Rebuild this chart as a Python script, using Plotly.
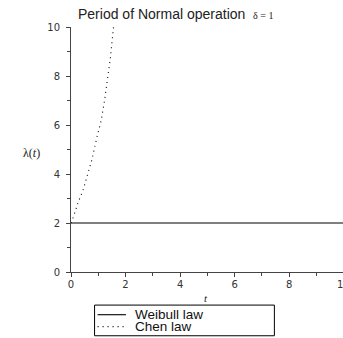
import plotly.graph_objects as go

# Data
weibull_t = [0, 10]
weibull_lambda = [2, 2]

chen_t = [0.0, 0.09, 0.25, 0.46, 0.60, 0.77, 0.95, 1.11, 1.23, 1.34, 1.44, 1.55, 1.57]
chen_lambda = [2.0, 2.25, 2.8, 3.4, 3.95, 4.6, 5.5, 6.2, 7.0, 7.9, 8.7, 9.9, 10.1]

x_ticks = [0, 2, 4, 6, 8]
y_ticks = [0, 2, 4, 6, 8, 10]
series_names = ["Weibull law", "Chen law"]

W, H = 343, 338
L, T = 70.7, 27.3
B = H - 271.7
PW = W - L
PH = H - T - B
px_per_t = 27.3
x_max = PW / px_per_t


def px_x(px):
    return (px - L) / PW


def px_y(py):
    return (H - B - py) / PH


line_styles = [dict(color="black", width=1.1), dict(color="black", width=1.1, dash="1px,4px")]

fig = go.Figure()
fig.add_trace(go.Scatter(x=weibull_t, y=weibull_lambda, mode="lines",
                         name=series_names[0], line=line_styles[0], showlegend=False))
fig.add_trace(go.Scatter(x=chen_t, y=chen_lambda, mode="lines",
                         name=series_names[1], line=line_styles[1], showlegend=False))

tick_font = dict(family="DejaVu Sans", size=10, color="#333")
axis_common = dict(
    showgrid=False, zeroline=False, showline=True, linecolor="#444",
    linewidth=1, ticks="outside", ticklen=4, tickcolor="#444",
    tickfont=tick_font,
    minor=dict(ticks="outside", ticklen=3, dtick=1, tickcolor="#444"),
)

fig.update_layout(
    width=W, height=H,
    margin=dict(l=L, r=0, t=T, b=B, pad=0, autoexpand=False),
    paper_bgcolor="white", plot_bgcolor="white",
    title=dict(
        text="Period of Normal operation  <span style='font-family:Liberation Serif;font-size:10px'>δ = 1</span>",
        font=dict(family="Liberation Sans", size=14, color="#222"),
        x=78 / W, xanchor="left", xref="container",
        y=1 - 14 / H, yanchor="middle", yref="container",
    ),
    xaxis=dict(range=[0, x_max], tickvals=x_ticks, ticktext=[str(v) for v in x_ticks],
               ticklabelstandoff=-1, **axis_common),
    yaxis=dict(range=[0, 10], tickvals=y_ticks, ticktext=[str(v) for v in y_ticks],
               ticklabelstandoff=4, **axis_common),
    showlegend=False,
)

# cut-off "10" tick label at the right edge
fig.add_annotation(x=px_x(343.7), y=0, xref="paper", yref="paper", text="10", showarrow=False,
                   xanchor="center", yanchor="top", yshift=-5, font=tick_font)
# axis titles
fig.add_annotation(x=px_x(31), y=px_y(153), xref="paper", yref="paper", text="λ(<i>t</i>)",
                   showarrow=False, xanchor="center", yanchor="middle",
                   font=dict(family="Liberation Serif", size=12, color="#222"))
fig.add_annotation(x=px_x(206), y=px_y(298), xref="paper", yref="paper", text="<i>t</i>",
                   showarrow=False, xanchor="center", yanchor="middle",
                   font=dict(family="Liberation Serif", size=11, color="#222"))

# legend box drawn as in the reference (box with key lines and labels)
box = dict(x0=94.3, x1=274.3, y0=304.7, y1=335.3)
fig.add_shape(type="rect", xref="paper", yref="paper",
              x0=px_x(box["x0"]), x1=px_x(box["x1"]), y0=px_y(box["y1"]), y1=px_y(box["y0"]),
              line=dict(color="black", width=1), fillcolor="white")
row_y = [314.3, 326.2]
for name, style, ry in zip(series_names, line_styles, row_y):
    fig.add_shape(type="line", xref="paper", yref="paper",
                  x0=px_x(97.3), x1=px_x(125.7), y0=px_y(ry), y1=px_y(ry), line=style)
    fig.add_annotation(x=px_x(132.7), y=px_y(ry), xref="paper", yref="paper", text=name,
                       showarrow=False, xanchor="left", yanchor="middle",
                       font=dict(family="Liberation Sans", size=13.5, color="#111"))

fig.write_html("out.html")
